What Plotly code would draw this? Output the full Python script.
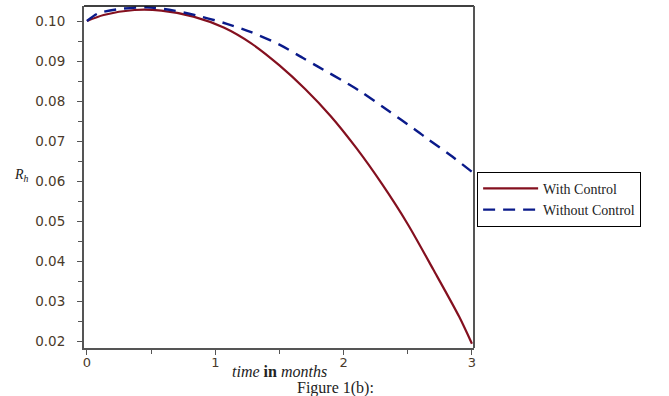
import plotly.graph_objects as go

# Data
t_ctrl = [0, 0.13, 0.37, 0.58, 0.83, 1.07, 1.28, 1.50, 1.70, 1.90, 2.10, 2.30, 2.50, 2.70, 2.90, 3.0]
r_ctrl = [0.1000, 0.1015, 0.10275, 0.1026, 0.1011, 0.0983, 0.0944, 0.0889, 0.0830, 0.0762, 0.0682,
          0.0592, 0.0492, 0.0378, 0.0261, 0.0193]

t_noctrl = [0, 0.08, 0.23, 0.47, 0.68, 0.89, 1.09, 1.28, 1.50, 1.68, 1.80, 2.05, 2.14, 2.36, 2.55, 2.66, 2.83, 3.0]
r_noctrl = [0.1000, 0.1018, 0.1029, 0.1034, 0.1026, 0.1011, 0.0993, 0.0972, 0.0941, 0.0908, 0.0886,
            0.0840, 0.0822, 0.0773, 0.0730, 0.0704, 0.0665, 0.0623]

y_ticks = [0.02, 0.03, 0.04, 0.05, 0.06, 0.07, 0.08, 0.09, 0.10]
y_tick_labels = ["0.02", "0.03", "0.04", "0.05", "0.06", "0.07", "0.08", "0.09", "0.10"]
x_ticks = [0, 1, 2, 3]
x_tick_labels = ["0", "1", "2", "3"]

SERIF = "Liberation Serif, Times New Roman, serif"

fig = go.Figure()
fig.add_trace(go.Scatter(x=t_ctrl, y=r_ctrl, mode="lines", name="With Control",
                         line=dict(color="#84101f", width=2.2, shape="spline", smoothing=0.8)))
fig.add_trace(go.Scatter(x=t_noctrl, y=r_noctrl, mode="lines", name="Without Control",
                         line=dict(color="#0a1a8a", width=2.4, dash="12px,8px", shape="spline", smoothing=0.8)))

axis_common = dict(showline=True, linecolor="#555", linewidth=2, ticks="outside",
                   tickcolor="#555", ticklen=5, tickwidth=1, showgrid=False, zeroline=False)

fig.update_xaxes(range=[-0.023, 3.016], tickvals=x_ticks, ticktext=x_tick_labels,
                 minor=dict(dtick=0.5, ticks="outside", ticklen=4, tickcolor="#555"),
                 tickfont=dict(family="DejaVu Sans", size=13, color="#4a3a2a"),
                 ticklabelstandoff=-4, **axis_common)
fig.update_yaxes(range=[0.01825, 0.10375], tickvals=y_ticks, ticktext=y_tick_labels,
                 minor=dict(dtick=0.005, ticks="outside", ticklen=4, tickcolor="#555"),
                 tickfont=dict(family="DejaVu Sans", size=13.5, color="#4a3a2a"),
                 ticklabelstandoff=9, **axis_common)

# top and right box lines
fig.add_shape(type="line", xref="paper", yref="paper", x0=0, x1=1, y0=1, y1=1,
              line=dict(color="black", width=1.5))
fig.add_shape(type="line", xref="paper", yref="paper", x0=1, x1=1, y0=0, y1=1,
              line=dict(color="#555", width=2))

fig.add_annotation(text="<i>time</i> <b>in</b> <i>months</i>", xref="paper", yref="paper",
                   x=0.5, y=-0.070, yanchor="middle", showarrow=False,
                   font=dict(family=SERIF, size=16, color="#222"))
fig.add_annotation(text="<i>R<sub>h</sub></i>", xref="paper", yref="paper",
                   x=-0.185, y=0.503, showarrow=False,
                   font=dict(family=SERIF, size=14, color="#222"))
fig.add_annotation(text="Figure 1(b):", xref="paper", yref="paper",
                   x=0.646, y=-0.117, yanchor="middle", showarrow=False,
                   font=dict(family=SERIF, size=16, color="#222"))

fig.update_layout(
    width=669, height=396,
    margin=dict(l=84, r=195, t=6, b=48),
    plot_bgcolor="white", paper_bgcolor="white",
    showlegend=True,
    legend=dict(x=1.008, y=0.515, xanchor="left", yanchor="top",
                bordercolor="black", borderwidth=1, bgcolor="white",
                font=dict(family=SERIF, size=14, color="#222"),
                tracegroupgap=0, itemwidth=55),
)

fig.write_html("out.html")
